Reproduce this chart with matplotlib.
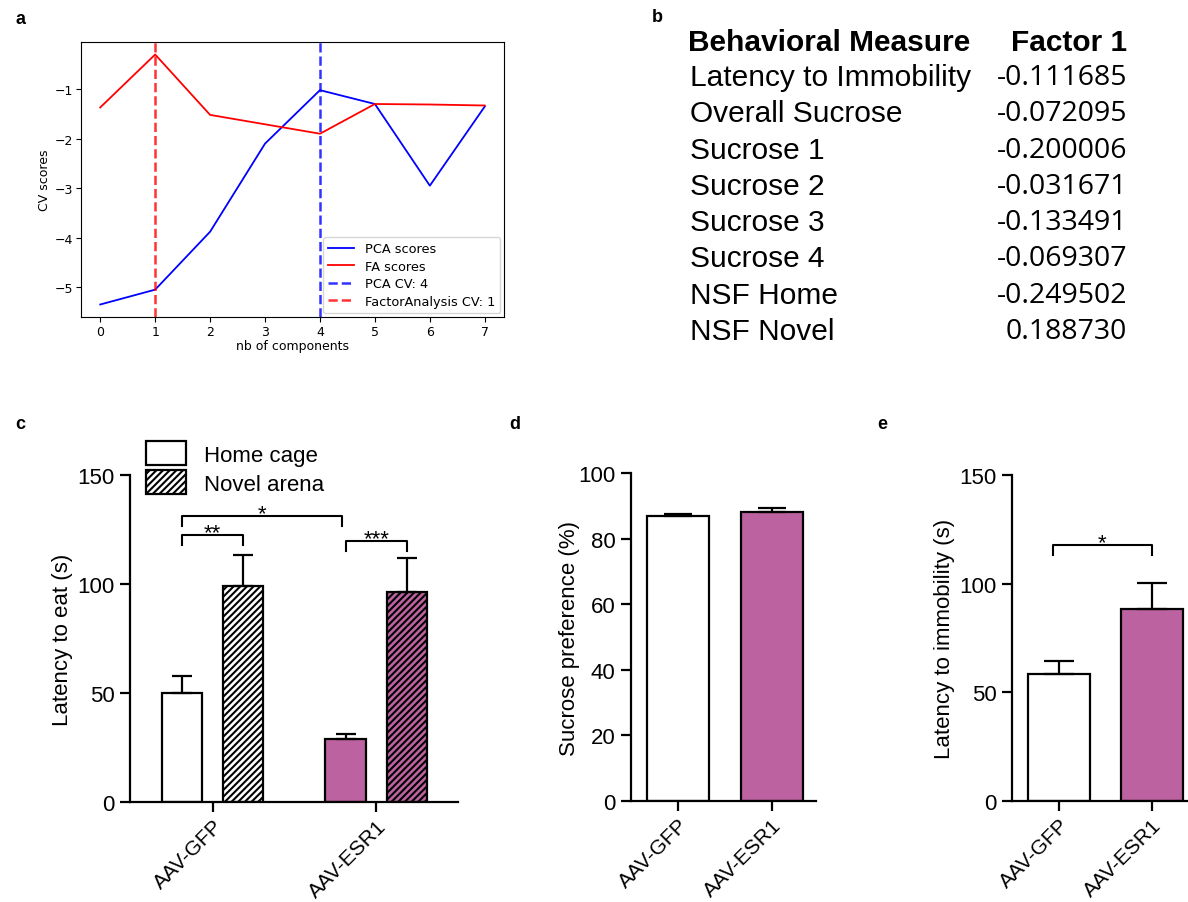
import matplotlib
matplotlib.use('Agg')
from matplotlib import pyplot as plt
from matplotlib.patches import Patch
import numpy as np

plt.rcParams['font.family'] = ['Liberation Sans', 'DejaVu Sans']
plt.rcParams['hatch.linewidth'] = 1.5

# panel a data
n_comp = [0, 1, 2, 3, 4, 5, 6, 7]
pca_scores = [-5.35, -5.05, -3.88, -2.1, -1.02, -1.3, -2.95, -1.35]
fa_scores = [-1.37, -0.3, -1.52, -1.71, -1.9, -1.3, -1.31, -1.33]
pca_best = 4
fa_best = 1

# panel b table
measures = ['Latency to Immobility', 'Overall Sucrose', 'Sucrose 1', 'Sucrose 2',
            'Sucrose 3', 'Sucrose 4', 'NSF Home', 'NSF Novel']
factor1 = ['-0.111685', '-0.072095', '-0.200006', '-0.031671',
           '-0.133491', '-0.069307', '-0.249502', '0.188730']

# panels c-e data
groups = ['AAV-GFP', 'AAV-ESR1']
home_cage = [50.0, 28.8]
home_cage_err = [7.8, 2.4]
novel_arena = [99.3, 96.2]
novel_arena_err = [14.2, 15.5]
sucrose_pref = [86.8, 88.1]
sucrose_pref_err = [0.8, 1.2]
immobility = [58.5, 88.3]
immobility_err = [5.8, 11.8]

MAG = '#BD62A0'
bar_colors = ['white', MAG]

fig = plt.figure(figsize=(11.88, 9.03), dpi=100)
W, H = 1188, 903


def px_axes(l, t, r, b):
    return fig.add_axes([l / W, 1 - b / H, (r - l) / W, (b - t) / H])


# ---- a ----
ax = px_axes(81, 43, 504, 318)
dv = 'DejaVu Sans'
ax.plot(n_comp, pca_scores, color='b', lw=1.3, label='PCA scores')
ax.plot(n_comp, fa_scores, color='r', lw=1.3, label='FA scores')
ax.axvline(pca_best, color='b', ls='--', lw=1.8, alpha=0.8, label='PCA CV: %d' % pca_best)
ax.axvline(fa_best, color='r', ls='--', lw=1.8, alpha=0.8, label='FactorAnalysis CV: %d' % fa_best)
ax.set_xticks(n_comp, [str(n) for n in n_comp], fontsize=9, fontfamily=dv)
yt = [-5, -4, -3, -2, -1]
ax.set_yticks(yt, ['\u2212%d' % -v for v in yt], fontsize=9, fontfamily=dv)
ax.set_xlabel('nb of components', fontsize=9, fontfamily=dv, labelpad=1)
ax.set_ylabel('CV scores', fontsize=9, fontfamily=dv, labelpad=3)
ax.tick_params(length=3.5, width=0.8, pad=2)
for s in ax.spines.values():
    s.set_linewidth(0.8)
ax.legend(loc='lower right', prop={'family': dv, 'size': 9.3}, handlelength=2.0,
          borderaxespad=0.3, labelspacing=0.35)

# ---- b ----
fig.text(688 / W, 1 - 43 / H, 'Behavioral Measure', fontsize=21.5, fontweight='bold', va='center')
fig.text(1127 / W, 1 - 43 / H, 'Factor 1', fontsize=21.5, fontweight='bold', va='center', ha='right')
for i, (m, v) in enumerate(zip(measures, factor1)):
    y = 78 + i * 36.3
    fig.text(690 / W, 1 - y / H, m, fontsize=21.5, va='center')
    fig.text(1127 / W, 1 - y / H, v, fontsize=20.5, va='center', ha='right', fontfamily='Open Sans')

# panel letters
for lab, x, y in [('a', 20, 20), ('b', 657, 18), ('c', 20, 425), ('d', 515, 425), ('e', 882, 425)]:
    fig.text(x / W, 1 - y / H, lab, fontsize=13, fontweight='bold', va='center', ha='center')


def style_bar_axes(ax, yticks):
    for s in ['top', 'right']:
        ax.spines[s].set_visible(False)
    for s in ['left', 'bottom']:
        ax.spines[s].set_linewidth(1.6)
    ax.set_yticks(yticks, [str(v) for v in yticks], fontsize=16)
    ax.set_xticks(range(len(groups)), groups, fontsize=15, rotation=45,
                  ha='right', rotation_mode='anchor')
    ax.tick_params(length=7, width=1.6, pad=4)
    ax.tick_params(axis='x', pad=3)


def bracket(ax, x1, x2, y, h, txt):
    ax.plot([x1, x1, x2, x2], [y - h, y, y, y - h], color='k', lw=1.5, clip_on=False)
    ax.text((x1 + x2) / 2, y - 1.5, txt, ha='center', va='baseline', fontsize=16)


err_kw = dict(ecolor='k', elinewidth=1.6, capthick=1.6)

# ---- c ----
ax = px_axes(130, 476, 458, 803)
x = np.arange(len(groups))
off, w = 0.187, 0.248
ax.bar(x - off, home_cage, w, color=bar_colors, edgecolor='k', lw=1.6,
       yerr=[[0, 0], home_cage_err], error_kw=dict(capsize=7, **err_kw), zorder=2)
ax.bar(x + off, novel_arena, w, color=bar_colors, edgecolor='k', lw=1.6, hatch='/////',
       yerr=[[0, 0], novel_arena_err], error_kw=dict(capsize=7, **err_kw), zorder=2)
ax.set_xlim(-0.505, 1.5)
ax.set_ylim(0, 150)
style_bar_axes(ax, [0, 50, 100, 150])
ax.set_ylabel('Latency to eat (s)', fontsize=16, labelpad=3)
bracket(ax, x[0] - off, x[1] - 0.02 - off, 131.3, 4.7, '*')
bracket(ax, x[0] - off, x[0] + off, 122.5, 4.6, '**')
bracket(ax, x[1] - off, x[1] + off, 119.8, 4.6, '***')
handles = [Patch(facecolor='white', edgecolor='k', lw=1.6, label='Home cage'),
           Patch(facecolor='white', edgecolor='k', lw=1.6, hatch='/////', label='Novel arena')]
ax.legend(handles=handles, loc='upper left', bbox_to_anchor=(0.049, 1.104), frameon=False,
          fontsize=16, handlelength=1.8, handleheight=1.3, handletextpad=0.8,
          labelspacing=0.2, borderaxespad=0, borderpad=0)

# ---- d ----
ax = px_axes(631, 474, 816, 802)
ax.bar(x, sucrose_pref, 0.664, color=bar_colors, edgecolor='k', lw=1.6,
       yerr=[[0, 0], sucrose_pref_err], error_kw=dict(capsize=10, **err_kw), zorder=2)
ax.set_xlim(-0.507, 1.476)
ax.set_ylim(0, 100)
style_bar_axes(ax, [0, 20, 40, 60, 80, 100])
ax.set_ylabel('Sucrose preference (%)', fontsize=16, labelpad=-1)

# ---- e ----
ax = px_axes(1012, 476, 1188, 802)
ax.bar(x, immobility, 0.669, color=bar_colors, edgecolor='k', lw=1.6,
       yerr=[[0, 0], immobility_err], error_kw=dict(capsize=11, **err_kw), zorder=2)
ax.set_xlim(-0.51, 1.39)
ax.set_ylim(0, 150)
style_bar_axes(ax, [0, 50, 100, 150])
ax.set_ylabel('Latency to immobility (s)', fontsize=16, labelpad=3)
bracket(ax, x[0] - 0.07, x[1], 117.9, 4.8, '*')

fig.savefig('out.png', dpi=100)
